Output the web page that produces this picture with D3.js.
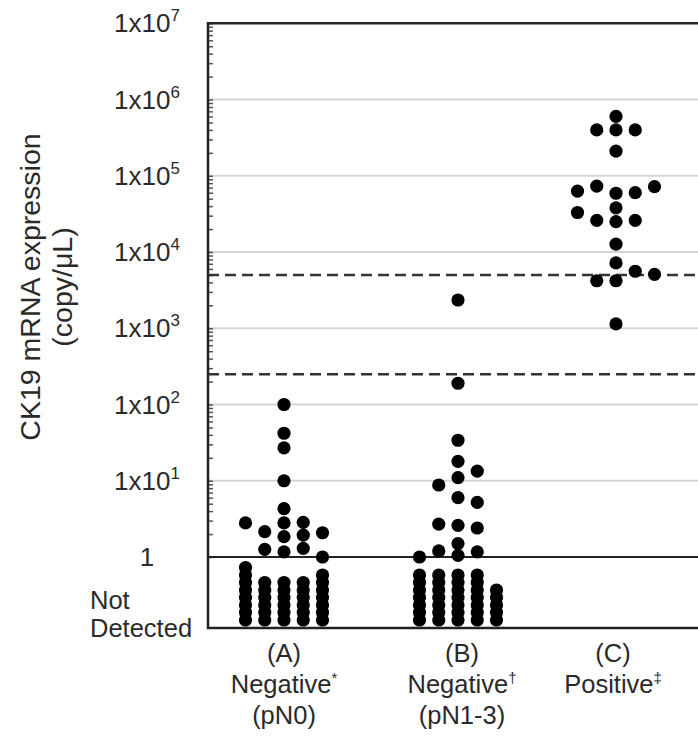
<!DOCTYPE html>
<html>
<head>
<meta charset="utf-8">
<script src="https://cdn.jsdelivr.net/npm/d3@7"></script>
<style>
  body { margin: 0; background: #fff; }
  text { font-family: "Liberation Sans", Arial, sans-serif; fill: #2a2a2a; }
</style>
</head>
<body>
<div class="canvas"></div>
<script>
// Groups and their labels
const groups = ['A', 'B', 'C']
const groupTitles = ['(A)', '(B)', '(C)']
const groupNames = ['Negative', 'Negative', 'Positive']
const groupMarks = ['*', '\u2020', '\u2021']
const groupStages = ['(pN0)', '(pN1-3)', '']

// Detected values (copy/uL) and the column each dot sits in
const aValues = [100, 42, 27, 10, 4.3, 2.8, 1.85, 1.17, 2.8, 2.15, 1.26, 2.85, 1.94, 1.3, 2.08, 1.0]
const aColumns = [0, 0, 0, 0, 0, 0, 0, 0, -2, -1, -1, 1, 1, 1, 2, 2]
const bValues = [2350, 190, 34, 18, 11, 6.0, 2.6, 1.5, 1.05, 8.8, 2.7, 1.2, 13.4, 5.2, 2.4, 1.17, 1.0]
const bColumns = [0, 0, 0, 0, 0, 0, 0, 0, 0, -1, -1, -1, 1, 1, 1, 1, -2]
const cValues = [600000, 400000, 400000, 400000, 211000, 63000, 73000, 59000, 60000, 72000,
  33000, 26000, 38000, 25000, 26000, 12700, 7200, 5600, 5100, 4200, 4200, 1140]
const cColumns = [0, -1, 0, 1, 0, -2, -1, 0, 1, 2, -2, -1, 0, 0, 1, 0, 0, 1, 2, -1, 0, 0]

// Not detected: number of dots per column (-2..2)
const ndColumns = [-2, -1, 0, 1, 2]
const aNotDetected = [8, 6, 6, 6, 7]
const bNotDetected = [7, 7, 7, 7, 5]
const cNotDetected = [0, 0, 0, 0, 0]

// Cut-off levels
const cutoffs = [250, 5000]
const yTicks = [1, 10, 100, 1e3, 1e4, 1e5, 1e6, 1e7]

const width = 698
const height = 740
const margin = {top: 23.3, left: 208, right: 0, bottom: 112}

const svg = d3.select('.canvas')
  .append('svg')
    .attr('width', width)
    .attr('height', height)

const y = d3.scaleLog()
  .domain([1, 1e7])
  .range([557, margin.top])

// stack index for dots below detection
const yNd = d3.scaleLinear()
  .domain([0, 1])
  .range([620, 612.5])

const x = d3.scaleOrdinal()
  .domain(groups)
  .range([284, 458, 616])

const col = d3.scaleLinear()
  .domain([-2, 2])
  .range([-38.5, 38.5])

const plotRight = width + 10
const plotBottom = height - margin.bottom

// Grid lines
svg.append('g')
  .selectAll('line')
  .data(yTicks.slice(1, -1))
  .enter()
  .append('line')
    .attr('x1', margin.left)
    .attr('x2', plotRight)
    .attr('y1', (d) => y(d))
    .attr('y2', (d) => y(d))
    .attr('stroke', '#d6d6d6')
    .attr('stroke-width', 2)

// Minor ticks inside the axis
svg.append('g')
  .attr('transform', `translate(${margin.left},0)`)
  .call(d3.axisRight(y).tickSize(5).tickFormat(''))
  .call((g) => g.select('.domain').remove())
  .call((g) => g.selectAll('line').attr('stroke', '#555').attr('stroke-width', 1.5))

// Cut-off dashes
svg.append('g')
  .selectAll('line')
  .data(cutoffs)
  .enter()
  .append('line')
    .attr('x1', margin.left)
    .attr('x2', plotRight)
    .attr('y1', (d) => y(d))
    .attr('y2', (d) => y(d))
    .attr('stroke', '#333')
    .attr('stroke-width', 2.5)
    .attr('stroke-dasharray', '11,6')

// Detection limit line at 1
svg.append('line')
  .attr('x1', margin.left)
  .attr('x2', plotRight)
  .attr('y1', y(1))
  .attr('y2', y(1))
  .attr('stroke', '#222')
  .attr('stroke-width', 2)

// Frame
svg.append('path')
  .attr('d', `M${plotRight},${margin.top}H${margin.left}V${plotBottom}H${plotRight}`)
  .attr('fill', 'none')
  .attr('stroke', '#222')
  .attr('stroke-width', 2.5)

// Build points
const detected = [
  [aValues, aColumns],
  [bValues, bColumns],
  [cValues, cColumns]
].flatMap(([vals, cols], i) => vals.map((v, j) => ({group: groups[i], value: v, column: cols[j]})))

const notDetected = [aNotDetected, bNotDetected, cNotDetected]
  .flatMap((counts, i) => counts.flatMap((n, j) =>
    d3.range(n).map((k) => ({group: groups[i], column: ndColumns[j], index: k}))))

const r = 6.6

svg.append('g')
  .selectAll('circle')
  .data(detected)
  .enter()
  .append('circle')
    .attr('cx', (d) => x(d.group) + col(d.column))
    .attr('cy', (d) => y(d.value))
    .attr('r', r)
    .attr('fill', '#000')

svg.append('g')
  .selectAll('circle')
  .data(notDetected)
  .enter()
  .append('circle')
    .attr('cx', (d) => x(d.group) + col(d.column))
    .attr('cy', (d) => yNd(d.index))
    .attr('r', r)
    .attr('fill', '#000')

// Y tick labels
const yLabels = svg.append('g')
  .selectAll('text')
  .data(yTicks)
  .enter()
  .append('text')
    .attr('x', 147)
    .attr('y', (d) => y(d) + 9)
    .attr('text-anchor', 'middle')
    .attr('font-size', 26)

yLabels.filter((d) => d === 1).text('1')
yLabels.filter((d) => d > 1).each(function (d) {
  const t = d3.select(this)
  t.append('tspan').text('1x10')
  t.append('tspan')
    .attr('font-size', 17)
    .attr('dy', -11)
    .text(Math.round(Math.log10(d)))
})

svg.append('text')
  .attr('x', 90)
  .attr('y', 609)
  .attr('font-size', 25.5)
  .text('Not')
svg.append('text')
  .attr('x', 90)
  .attr('y', 637)
  .attr('font-size', 25.5)
  .text('Detected')

// Y axis title
const yTitle = svg.append('text')
  .attr('transform', 'translate(40,287) rotate(-90)')
  .attr('text-anchor', 'middle')
  .attr('font-size', 28.5)
yTitle.append('tspan')
  .attr('x', 0)
  .text('CK19 mRNA expression')
yTitle.append('tspan')
  .attr('x', 0)
  .attr('dy', 32)
  .text('(copy/\u03bcL)')

// Group labels
const xLabels = svg.append('g')
  .selectAll('g')
  .data(groups)
  .enter()
  .append('g')
    .attr('transform', (d) => `translate(${x(d) + (d === 'B' ? 4 : d === 'C' ? -3 : 0)},0)`)

xLabels.append('text')
  .attr('text-anchor', 'middle')
  .attr('font-size', 25.5)
  .attr('y', 662)
  .text((d, i) => groupTitles[i])

const names = xLabels.append('text')
  .attr('text-anchor', 'middle')
  .attr('font-size', 25.5)
  .attr('y', 693)
names.append('tspan').text((d, i) => groupNames[i])
names.append('tspan')
  .attr('font-size', 15)
  .attr('dy', -10)
  .text((d, i) => groupMarks[i])

xLabels.append('text')
  .attr('text-anchor', 'middle')
  .attr('font-size', 25.5)
  .attr('y', 724)
  .text((d, i) => groupStages[i])
</script>
</body>
</html>
